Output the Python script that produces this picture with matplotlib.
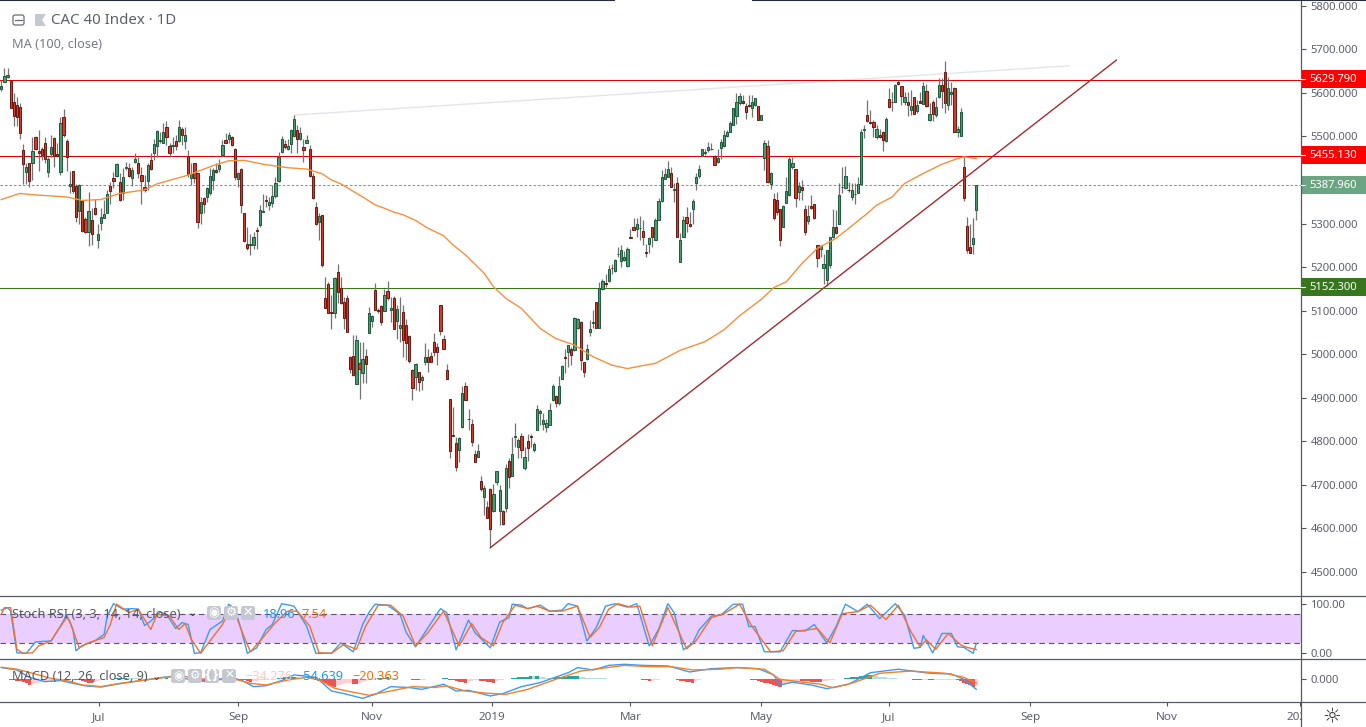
import matplotlib
matplotlib.use("Agg")
import matplotlib.pyplot as plt
from matplotlib.patches import FancyBboxPatch, Rectangle, Polygon

opens = [5609,5625,5637,5626,5578,5572,5567,5468,5419,5440,
5440,5498,5466,5470,5484,5419,5459,5496,5459,5419,
5544,5489,5387,5420,5386,5329,5351,5310,5281,5309,
5335,5263,5302,5313,5325,5387,5404,5410,5395,5369,
5428,5428,5405,5442,5438,5411,5383,5398,5445,5462,
5477,5489,5485,5521,5477,5478,5489,5490,5518,5489,
5456,5404,5438,5416,5325,5358,5361,5371,5400,5423,
5424,5457,5491,5495,5498,5470,5401,5424,5323,5254,
5251,5251,5285,5296,5327,5354,5343,5348,5362,5398,
5463,5482,5470,5483,5500,5515,5495,5475,5485,5472,
5408,5339,5304,5319,5128,5161,5097,5094,5188,5151,
5119,5130,4993,4995,4932,4979,4958,4997,5049,5077,
5147,5102,5110,5100,5146,5102,5130,5077,5061,5098,
5068,5041,4963,4948,4959,4940,4983,4993,4997,5027,
5016,5112,5036,4963,4898,4814,4797,4781,4833,4926,
4851,4839,4772,4765,4710,4673,4650,4690,4641,4707,
4641,4641,4648,4756,4721,4810,4787,4813,4739,4800,
4812,4781,4825,4866,4840,4832,4838,4895,4903,4888,
4944,4993,5004,5013,5009,5060,5075,4981,4988,5051,
5071,5119,5061,5149,5163,5169,5198,5190,5230,5213,
5216,5203,5268,5291,5288,5289,5282,5234,5254,5291,
5263,5309,5352,5403,5406,5417,5378,5394,5212,5269,
5314,5300,5334,5393,5409,5458,5462,5469,5471,5455,
5442,5474,5478,5501,5510,5527,5547,5576,5582,5569,
5571,5566,5571,5569,5538,5451,5479,5390,5357,5353,
5333,5292,5347,5365,5429,5426,5373,5383,5334,5306,
5341,5344,5250,5242,5198,5170,5204,5268,5293,5299,
5383,5382,5378,5361,5367,5370,5390,5514,5550,5533,
5534,5499,5504,5510,5490,5585,5579,5579,5624,5615,
5579,5578,5561,5590,5559,5582,5575,5603,5538,5580,
5550,5591,5619,5647,5572,5598,5610,5510,5501,5429,
5295,5245,5252,5332]

highs = [5629,5658,5658,5626,5599,5591,5576,5482,5438,5440,
5499,5501,5515,5476,5499,5453,5503,5499,5484,5545,
5563,5493,5421,5420,5390,5390,5351,5316,5372,5335,
5357,5300,5335,5354,5377,5396,5418,5438,5415,5427,
5441,5438,5430,5462,5453,5430,5411,5438,5461,5495,
5515,5511,5530,5535,5484,5499,5503,5537,5522,5522,
5469,5438,5438,5416,5361,5361,5384,5427,5427,5438,
5449,5492,5507,5509,5501,5474,5419,5427,5323,5293,
5277,5281,5293,5342,5367,5365,5361,5388,5407,5463,
5501,5492,5495,5516,5549,5526,5522,5493,5503,5480,
5415,5350,5323,5319,5178,5165,5136,5178,5207,5178,
5132,5136,4997,5044,5044,5029,5029,5011,5109,5090,
5164,5105,5113,5149,5168,5132,5133,5113,5132,5113,
5081,5044,4967,4979,4960,4952,5025,5013,5006,5048,
5025,5114,5044,4977,4898,4879,4809,4809,4927,4936,
4875,4852,4780,4794,4720,4699,4663,4692,4702,4731,
4699,4642,4749,4761,4810,4843,4807,4818,4787,4817,
4817,4799,4883,4874,4864,4852,4887,4931,4906,4950,
4975,5013,5022,5017,5086,5084,5077,4983,5023,5078,
5101,5120,5166,5172,5185,5205,5208,5218,5245,5251,
5236,5247,5288,5312,5312,5317,5308,5253,5268,5293,
5312,5358,5423,5427,5444,5429,5394,5406,5278,5317,
5338,5327,5356,5415,5434,5472,5472,5488,5484,5457,
5472,5495,5514,5514,5536,5566,5600,5600,5595,5576,
5595,5595,5587,5569,5549,5491,5491,5419,5369,5373,
5334,5342,5407,5452,5452,5426,5396,5400,5342,5342,
5365,5344,5250,5250,5231,5240,5269,5334,5331,5392,
5430,5432,5396,5393,5392,5407,5518,5526,5583,5560,
5537,5526,5518,5512,5545,5612,5602,5621,5629,5615,
5602,5602,5606,5591,5583,5602,5625,5621,5576,5583,
5591,5633,5633,5673,5637,5624,5614,5523,5564,5452,
5315,5298,5312,5388]

lows = [5605,5625,5633,5566,5524,5524,5494,5391,5391,5383,
5400,5469,5421,5446,5438,5407,5453,5430,5453,5411,
5499,5421,5369,5369,5304,5300,5281,5279,5249,5251,
5320,5244,5285,5312,5323,5345,5381,5406,5352,5354,
5423,5407,5386,5438,5404,5344,5373,5377,5423,5446,
5453,5484,5484,5480,5452,5461,5469,5488,5480,5472,
5407,5388,5392,5289,5300,5323,5350,5365,5377,5417,
5419,5453,5484,5484,5478,5400,5384,5325,5258,5239,
5228,5241,5241,5293,5326,5339,5332,5339,5358,5396,
5461,5472,5469,5461,5498,5461,5492,5442,5484,5407,
5356,5296,5262,5201,5107,5094,5058,5084,5118,5116,
5058,5051,4956,4950,4931,4898,4933,4933,5049,5063,
5101,5094,5067,5100,5124,5074,5058,5036,5029,4994,
4986,4979,4895,4918,4916,4918,4975,4960,4983,4996,
4975,5044,5013,4944,4762,4812,4732,4753,4831,4895,
4826,4790,4753,4763,4686,4631,4623,4556,4638,4699,
4608,4608,4638,4692,4720,4787,4761,4761,4734,4755,
4787,4776,4825,4837,4826,4822,4837,4893,4879,4883,
4944,4956,4971,4975,5007,5058,4963,4948,4986,5042,
5061,5061,5061,5147,5155,5166,5185,5189,5223,5200,
5213,5201,5266,5285,5270,5262,5251,5224,5232,5247,
5262,5308,5350,5403,5406,5383,5350,5268,5212,5268,
5281,5292,5300,5377,5405,5453,5457,5465,5468,5434,
5438,5449,5476,5499,5509,5526,5528,5572,5574,5540,
5568,5545,5569,5537,5537,5422,5394,5380,5308,5319,
5249,5291,5346,5364,5426,5337,5355,5354,5273,5300,
5334,5311,5201,5224,5162,5156,5197,5266,5277,5298,
5369,5380,5373,5354,5344,5369,5388,5497,5533,5528,
5499,5495,5497,5466,5488,5566,5558,5579,5619,5572,
5572,5546,5549,5551,5554,5576,5574,5568,5536,5536,
5545,5589,5564,5553,5560,5572,5509,5499,5501,5352,
5233,5233,5229,5308]

closes = [5616,5638,5640,5566,5547,5544,5508,5437,5429,5398,
5466,5472,5461,5458,5449,5449,5475,5455,5455,5530,
5502,5452,5390,5374,5316,5388,5283,5281,5329,5275,
5322,5277,5316,5321,5367,5375,5398,5436,5354,5406,
5429,5410,5423,5447,5417,5398,5378,5434,5426,5482,
5512,5491,5511,5498,5461,5481,5477,5521,5502,5503,
5414,5414,5404,5304,5349,5345,5381,5408,5423,5419,
5434,5480,5485,5503,5480,5407,5415,5343,5260,5243,
5252,5270,5283,5332,5328,5352,5349,5364,5394,5452,
5495,5476,5479,5514,5541,5493,5507,5468,5491,5410,
5359,5300,5318,5205,5107,5095,5095,5174,5143,5117,
5084,5051,4967,4953,5032,4967,4990,4978,5094,5087,
5101,5100,5074,5137,5129,5107,5058,5103,5068,5033,
5025,4985,4923,4977,4937,4947,4994,4983,4983,5006,
5004,5054,5013,4944,4778,4813,4742,4807,4910,4895,
4852,4799,4753,4777,4691,4694,4624,4598,4678,4731,
4689,4611,4738,4719,4772,4813,4804,4781,4763,4785,
4811,4795,4875,4869,4848,4841,4871,4927,4888,4928,
4974,4992,5020,4999,5084,5081,4986,4960,5013,5057,
5075,5061,5153,5169,5162,5196,5197,5216,5231,5239,
5224,5241,5266,5286,5298,5290,5268,5233,5266,5269,
5308,5352,5406,5413,5426,5383,5379,5269,5261,5308,
5302,5295,5351,5406,5424,5471,5463,5476,5472,5435,
5450,5486,5502,5509,5530,5564,5579,5592,5576,5556,
5570,5580,5587,5538,5548,5484,5396,5417,5313,5327,
5262,5341,5374,5449,5439,5359,5386,5378,5281,5317,
5336,5313,5221,5249,5208,5240,5268,5291,5279,5365,
5384,5408,5377,5376,5368,5391,5509,5518,5536,5530,
5522,5516,5499,5492,5539,5568,5578,5619,5621,5593,
5590,5573,5569,5552,5573,5577,5615,5570,5551,5551,
5567,5619,5605,5577,5611,5602,5510,5518,5557,5359,
5240,5233,5266,5387.96]

ma_bars = [0,6,10,21,26,32,38,46,50,60,68,73,78,84,92,98,103,106,109,116,120,123,126,129,133,137,142,145,149,155,158,162,167,173,178,184,190,196,201,206,210,218,226,232,237,244,248,252,257,262,268,274,278,281,286,290,296,302,307,309,313]
ma_vals = [5355,5369,5366,5361,5353,5355,5369,5377,5391,5411,5433,5444,5445,5436,5428,5425,5414,5400,5391,5361,5343,5335,5326,5320,5307,5289,5272,5251,5228,5186,5155,5128,5105,5059,5036,5021,4994,4975,4967,4974,4979,5009,5029,5056,5088,5126,5153,5166,5208,5243,5266,5300,5323,5342,5361,5392,5415,5436,5449,5453,5449]

k_bars = [0,2,3,5,8,11,16,19,21,23,24,26,30,33,34,36,39,42,44,46,48,51,53,56,58,60,62,64,67,71,73,75,77,79,82,85,87,90,94,98,101,106,109,113,116,118,120,124,128,130,133,136,141,143,146,150,152,157,160,163,164,167,169,173,176,180,182,185,188,191,194,197,201,204,208,211,214,216,219,222,224,228,231,235,238,240,242,245,250,254,258,261,265,268,271,275,278,282,287,290,293,295,296,299,302,305,307,309,312,313]
k_vals = [87,92,85,1,0,23,25,55,77,48,5,16,25,38,75,100,89,90,89,56,65,83,79,50,62,58,0,1,48,65,99,90,48,0,11,48,58,100,95,55,0,0,21,3,58,82,99,97,79,42,13,42,90,82,7,67,42,11,63,72,99,97,90,97,85,87,100,95,25,52,95,100,93,100,15,48,100,82,7,21,47,75,77,99,99,54,54,3,3,46,45,58,21,54,99,84,99,70,100,77,10,12,36,1,40,40,13,12,0,18.96]

d_bars = [0,1,3,5,7,10,12,16,18,21,22,25,28,33,35,37,41,44,46,48,50,54,57,59,61,64,67,71,73,75,78,80,84,88,92,95,99,102,106,110,114,117,121,125,129,133,137,142,147,151,154,158,161,165,169,172,176,180,185,189,192,195,198,202,205,209,214,220,223,228,232,237,241,245,247,251,255,262,266,270,275,279,284,288,292,295,297,300,304,308,310,313]
d_vals = [79,92,92,8,0,1,15,25,45,72,65,11,21,32,58,99,82,89,68,48,79,75,48,60,28,0,25,58,82,82,32,3,32,62,85,85,55,1,0,18,8,55,97,97,75,15,42,85,15,60,32,15,62,97,90,95,85,85,95,32,52,89,100,93,95,15,92,9,25,72,80,99,54,20,3,5,44,50,21,80,84,97,68,97,44,13,27,8,40,17,12,7.54]

macd_bars = [0,5,9,14,19,23,27,32,37,45,52,56,61,66,73,77,81,85,90,94,101,106,110,116,120,125,131,135,142,146,150,157,161,167,173,182,185,190,195,200,206,214,221,228,236,243,248,250,254,260,265,272,279,288,298,305,309,313]
macd_vals = [64,51,11,-13,-7,-22,-36,-42,-27,-7,11,18,-4,-13,11,-4,-40,-35,-7,24,11,-64,-78,-104,-82,-40,-45,-55,-27,-64,-60,-91,-78,-40,-18,36,64,51,76,82,76,73,40,58,64,58,24,-31,-16,-31,-51,-27,36,55,33,29,0,-54.639]

signal_bars = [0,5,10,16,21,26,32,38,46,53,58,63,69,74,80,85,92,98,102,107,111,118,125,132,139,143,149,156,162,169,178,186,192,200,208,215,222,231,236,245,250,256,263,267,273,282,292,303,309,313]
signal_vals = [66,55,33,5,-7,-31,-40,-22,-4,11,18,5,-4,5,-22,-31,-4,11,-4,-49,-64,-87,-64,-40,-45,-36,-64,-76,-82,-55,0,45,58,76,69,69,51,55,64,55,0,-13,-27,-46,-22,33,45,33,11,-20.363]

hist_vals = [0,0,0,-2,-4,-8,-12,-15,-20,-30,
-26,-22,-18,-15,-13,-10,-8,-6,-4,
-3,-2,-2,-2,-2,-3,
-6,-10,-14,-20,-22,
-15,-10,-6,-2,
1,2,
3,5,6,7,8,8,
7,6,5,4,3,3,2,1,
2,3,4,5,4,3,2,1,1,
0,-1,-2,-3,-4,
-8,-10,-8,-5,-3,
-1,1,2,3,3,2,1,0,
-3,-6,-10,-14,
-11,-8,-6,-4,-2,-1,
1,2,5,8,10,12,14,15,
12,9,6,4,3,1,
-4,-10,-16,-22,-30,-38,-44,
-36,-30,-25,-22,-18,
-24,-27,
-20,-15,-10,-6,-3,
3,5,7,9,10,
7,6,5,4,3,2,1,
-3,-5,-6,-4,-2,
0,1,1,
3,4,5,6,
-3,-6,-10,-13,-16,-18,
-12,-8,-6,-5,
-8,-10,-13,-15,-18,
-10,-5,-2,
2,4,6,8,10,12,14,15,16,16,17,
12,10,8,7,
8,10,12,14,15,16,17,18,19,
14,10,
8,7,7,6,6,5,5,4,4,4,3,3,2,1,
0,0,0,0,
-3,-6,-9,-7,-5,-3,-1,
0,0,0,0,
-4,-7,-10,-13,-16,-18,-12,-6,
2,3,4,3,
1,0,0,0,0,0,
2,3,3,2,
0,0,
-3,-6,-10,-14,-18,-22,-26,-30,-35,-40,
-32,-26,-20,-16,-12,-8,
-10,-11,-12,-13,-14,-15,-16,-10,
-7,-5,-3,-1,
2,4,6,8,10,12,14,17,20,22,24,
20,17,15,12,10,8,7,5,4,3,2,
1,0,
-3,-4,-5,-3,
-2,
-5,-6,
-5,-4,-4,-3,-3,-2,-2,
-6,-12,-18,-25,-32,-40,-34.276]

price_ticks = [5800,5700,5600,5500,5400,5300,5200,5100,5000,4900,4800,4700,4600,4500]
level_lines = [5629.79,5455.13,5152.30]
last_close = 5387.96
trend_bars = [157,358]
trend_vals = [4556,5675]
ghost_bars = [94.3,343]
ghost_vals = [5549,5662]
date_bars = [31.3,76,119,157.5,202,244,285,330.4,374.2,417]
date_labels = ["Jul","Sep","Nov","2019","Mar","May","Jul","Sep","Nov","2020"]

W, H = 1366, 727
FONT = "Noto Sans"
plt.rcParams["font.family"] = [FONT, "DejaVu Sans"]
TXT = "#5d606b"
FS = 8.1
LEG = 9.2
UP, UPE = "#4c9a70", "#1d5a3c"
DN, DNE = "#d23a2a", "#6a1a12"

def rect(x0, y0, x1, y1):
    return [x0 / W, 1 - y1 / H, (x1 - x0) / W, (y1 - y0) / H]

fig = plt.figure(figsize=(W / 100, H / 100), dpi=100, facecolor="white")
ax = fig.add_axes(rect(0, 0, 1300.5, 596))
sx = fig.add_axes(rect(0, 596, 1300.5, 659.3))
mx = fig.add_axes(rect(0, 659.3, 1300.5, 702.3))
tx = fig.add_axes(rect(0, 702.3, 1300.5, 727))
XL = (-0.417, 417.1)
for a in (ax, sx, mx, tx):
    a.set_xlim(*XL)
    for s in a.spines.values():
        s.set_visible(False)
    a.set_xticks([])
    a.yaxis.tick_right()
    a.tick_params(axis="y", length=3.6, width=0.8, color="#555555", labelcolor=TXT, labelsize=FS, pad=3.6)
    a.patch.set_alpha(0)

# main pane
ax.set_ylim(4445, 5813)
ax.set_yticks(price_ticks)
ax.set_yticklabels([f"{v:.3f}" for v in price_ticks])
bars = list(range(len(closes)))
ax.plot(ghost_bars, ghost_vals, color="#e4e4ec", lw=1.0, zorder=1)
ax.axhline(level_lines[0], color="#e00000", lw=0.75, zorder=2)
ax.axhline(level_lines[1], color="#e00000", lw=0.75, zorder=2)
ax.axhline(level_lines[2], color="#38761d", lw=0.75, zorder=2)
ax.axhline(last_close, color="#6ba583", lw=0.75, ls=(0, (2.5, 1.8)), zorder=2)
ax.vlines(bars, lows, highs, color="#737373", lw=0.9, zorder=3)
body_bottom = [min(o, c) for o, c in zip(opens, closes)]
body_height = [abs(c - o) for o, c in zip(opens, closes)]
fills = [UP if c >= o else DN for o, c in zip(opens, closes)]
edges = [UPE if c >= o else DNE for o, c in zip(opens, closes)]
ax.bar(bars, body_height, bottom=body_bottom, width=0.72, color=fills, edgecolor=edges, linewidth=0.7, zorder=4)
ax.plot(ma_bars, ma_vals, color="#f98e3e", lw=1.0, zorder=5, solid_joinstyle="round")
ax.plot(trend_bars, trend_vals, color="#a52a2f", lw=1.0, zorder=6)

# stochastic pane
sx.set_ylim(-12.1, 115.5)
sx.set_yticks([100, 0])
sx.set_yticklabels(["100.00", "0.00"])
sx.axhspan(20, 80, color="#e9ceff", lw=0, zorder=1)
for lv in (20, 80):
    sx.axhline(lv, color="#5f5468", lw=0.8, ls=(0, (5, 3.5)), zorder=2)
sx.plot(k_bars, k_vals, color="#3a9df5", lw=1.0, zorder=3, solid_joinstyle="round")
sx.plot(d_bars, d_vals, color="#f5702a", lw=1.0, zorder=4, solid_joinstyle="round")

# MACD pane
mx.set_ylim(-125.6, 109.2)
mx.set_yticks([0])
mx.set_yticklabels(["0.000"])
hist_cols = []
for i, v in enumerate(hist_vals):
    p = hist_vals[i - 1] if i else 0
    if v >= 0:
        hist_cols.append("#26a69a" if v > p else "#b2dfdb")
    else:
        hist_cols.append("#ef5350" if v < p else "#ffcdd2")
mx.bar(bars, hist_vals, width=1.0, color=hist_cols, lw=0, zorder=1)
mx.plot(macd_bars, macd_vals, color="#3a9df5", lw=1.0, zorder=2, solid_joinstyle="round")
mx.plot(signal_bars, signal_vals, color="#f5802a", lw=1.0, zorder=3, solid_joinstyle="round")

# time scale
tx.set_ylim(0, 1)
tx.xaxis.tick_top()
tx.set_xticks(date_bars)
tx.set_xticklabels([])
tx.set_yticks([])
tx.tick_params(axis="x", direction="in", length=3, width=0.8, color="#555555")
for b, lab in zip(date_bars, date_labels):
    tx.text(b, 0.38, lab, ha="center", va="center", fontsize=FS + 0.3, color=TXT,
            fontweight="bold" if lab.startswith("20") else "normal", clip_on=True)

# chrome overlay, pixel coordinates
ov = fig.add_axes([0, 0, 1, 1], zorder=20)
ov.set_xlim(0, W)
ov.set_ylim(H, 0)
ov.axis("off")
ov.patch.set_alpha(0)
ln = "#555a63"
ov.plot([1300.5, 1300.5], [0, H], color=ln, lw=0.9)
for y in (596, 659.3, 702.3):
    ov.plot([0, W], [y, y], color=ln, lw=0.9)
ov.plot([0, 614], [0.4, 0.4], color="#2a2e39", lw=1.5)
ov.plot([753, W], [0.4, 0.4], color="#2a2e39", lw=1.5)
for label, y0, col in [("5629.790", 70, "#ff0000"), ("5455.130", 146, "#ff0000"),
                       ("5387.960", 176, "#6ba583"), ("5152.300", 278, "#38761d")]:
    ov.add_patch(Rectangle((1300.5, y0), W - 1300.5, 18, facecolor=col, edgecolor="none"))
    ov.plot([1300.5, 1305], [y0 + 9, y0 + 9], color="white", lw=0.8)
    ov.text(1309, y0 + 9.5, label, color="white", fontsize=FS, fontweight="bold", va="center", ha="left")

ov.add_patch(FancyBboxPatch((13, 15), 11, 10, boxstyle="round,pad=0,rounding_size=2", fc="none", ec="#6a6d78", lw=0.9))
ov.plot([15, 22], [20, 20], color="#6a6d78", lw=0.9)
ov.add_patch(Polygon([(35, 14), (46, 14), (42, 20), (46, 26), (35, 26)], closed=True, fc="#c5c8d0", ec="none"))
ov.text(51, 20, "CAC 40 Index · 1D", fontsize=10.8, color="#5d606b", va="center", ha="left")
ov.text(12, 44.5, "MA (100, close)", fontsize=LEG, color="#777a84", va="center", ha="left")

def icon(x, y, glyph, size=9):
    ov.add_patch(FancyBboxPatch((x, y), 14, 14, boxstyle="round,pad=0,rounding_size=2.5", fc="#c5c8d0", ec="none"))
    ov.text(x + 7, y + 6.8, glyph, color="white", fontsize=size, ha="center", va="center",
            family=["DejaVu Sans"], fontweight="bold")

ov.text(12, 614, "Stoch RSI (3, 3, 14, 14, close)", fontsize=LEG, color="#555862", va="center", ha="left")
ov.text(192, 613.5, "⌄", fontsize=8, color="#333333", va="center", ha="center", family=["DejaVu Sans"])
for x, g in [(207, "◉"), (224, "⚙"), (241, "✕")]:
    icon(x, 606, g)
ov.text(263, 614, "18.96", fontsize=LEG, color="#2196f3", va="center", ha="left")
ov.text(302, 614, "7.54", fontsize=LEG, color="#ff6d00", va="center", ha="left")

ov.text(12, 677, "MACD (12, 26, close, 9)", fontsize=LEG, color="#555862", va="center", ha="left")
ov.text(156, 676.5, "⌄", fontsize=8, color="#333333", va="center", ha="center", family=["DejaVu Sans"])
for x, g in [(171, "◉"), (188, "⚙"), (205, "{}"), (222, "✕")]:
    icon(x, 669, g, 8.5)
ov.text(245, 677, "−34.276", fontsize=LEG, color="#ffc4c4", va="center", ha="left")
ov.text(296, 677, "−54.639", fontsize=LEG, color="#2196f3", va="center", ha="left")
ov.text(352, 677, "−20.363", fontsize=LEG, color="#ff6d00", va="center", ha="left")
ov.text(1332, 716, "☼", fontsize=15, color="#333333", va="center", ha="center", family=["DejaVu Sans"])

fig.savefig("out.png", dpi=100, facecolor="white")
